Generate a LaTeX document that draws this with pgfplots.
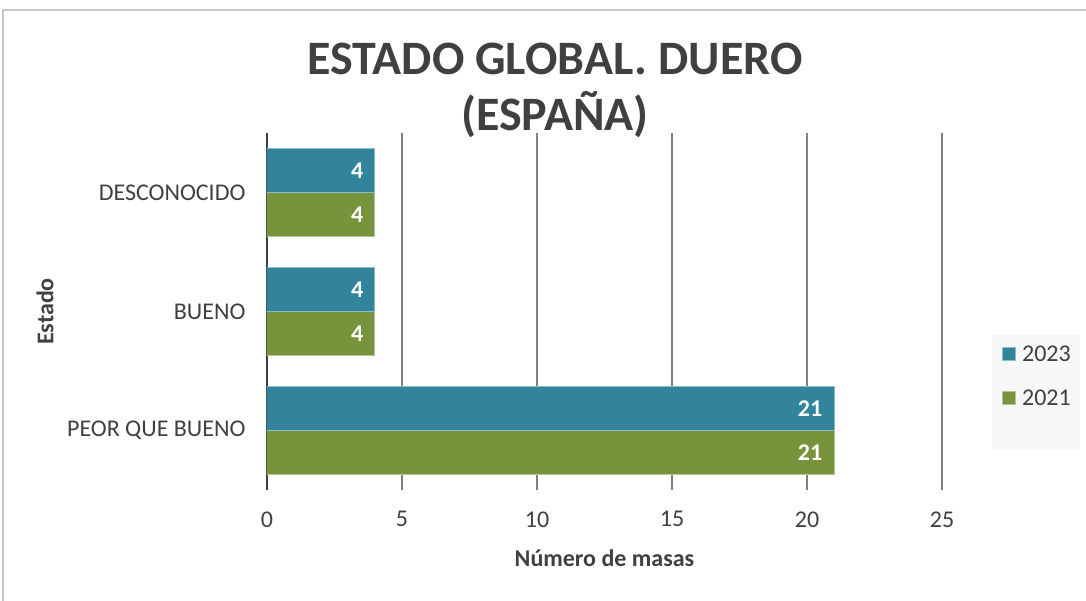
\documentclass[border=0pt]{standalone}
\usepackage{pgfplots}
\pgfplotsset{compat=1.18}
\usepackage{fontspec}
\setmainfont{Carlito}
\definecolor{cblue}{HTML}{31849B}
\definecolor{cgreen}{HTML}{77933C}
\definecolor{txt}{HTML}{404040}
\begin{document}
\begin{tikzpicture}[x=1pt,y=1pt]
\useasboundingbox (-267,-111) rectangle (819,490);
\draw[black!22, line width=1.2pt] (-264,-120) rectangle (830,480);
\fill[black!3] (725,40) rectangle (813,155);
\node[font=\bfseries\fontsize{48}{56}\selectfont, text=txt, align=center] at (288,400) {ESTADO GLOBAL. DUERO\\(ESPAÑA)};
\begin{axis}[
  scale only axis,
  width=675pt, height=357pt,
  xmin=0, xmax=25, ymin=-0.5, ymax=2.5,
  xtick={0,5,...,25}, ytick={0,1,2},
  yticklabels={PEOR QUE BUENO, BUENO, DESCONOCIDO},
  axis lines*=left,
  x axis line style={draw=none},
  y axis line style={draw=txt, line width=2.5pt},
  xmajorgrids, grid style={black!50, line width=1.3pt},
  major tick length=0pt,
  tick label style={font=\fontsize{24}{28}\selectfont, text=txt},
  /pgf/number format/assume math mode=true,
  xticklabel style={anchor=north, yshift=-18pt},
  yticklabel style={anchor=east, xshift=-18pt},
  xlabel={Número de masas}, ylabel={Estado},
  label style={font=\bfseries\fontsize{24}{28}\selectfont, text=txt},
  xlabel style={at={(axis description cs:0.5,-0.19)}, anchor=center},
  ylabel style={at={(axis description cs:-0.329,0.5)}, anchor=center},
  point meta=x,
  reverse legend,
  legend style={at={(1.074,0.434)}, anchor=north west, fill=none, draw=none,
    font=\fontsize{24}{28}\selectfont, text=txt, row sep=23pt, inner xsep=10pt, inner ysep=9pt,
    legend cell align=left},
  legend image code/.code={\draw[#1] (0pt,-6pt) rectangle (13pt,7pt); \path (17pt,0pt);},
]
\addplot[xbar, bar width=44pt, bar shift=-22pt, fill=cgreen, draw=cgreen!55!white, line width=1pt,
  nodes near coords, every node near coord/.append style={font=\bfseries\fontsize{24}{28}\selectfont, text=white, anchor=east, xshift=-8pt, yshift=-22pt}] coordinates {(21,0) (4,1) (4,2)};
\addplot[xbar, bar width=44pt, bar shift=22pt, fill=cblue, draw=cblue!55!white, line width=1pt,
  nodes near coords, every node near coord/.append style={font=\bfseries\fontsize{24}{28}\selectfont, text=white, anchor=east, xshift=-8pt, yshift=22pt}] coordinates {(21,0) (4,1) (4,2)};
\legend{2021,2023}
\end{axis}
\end{tikzpicture}
\end{document}
